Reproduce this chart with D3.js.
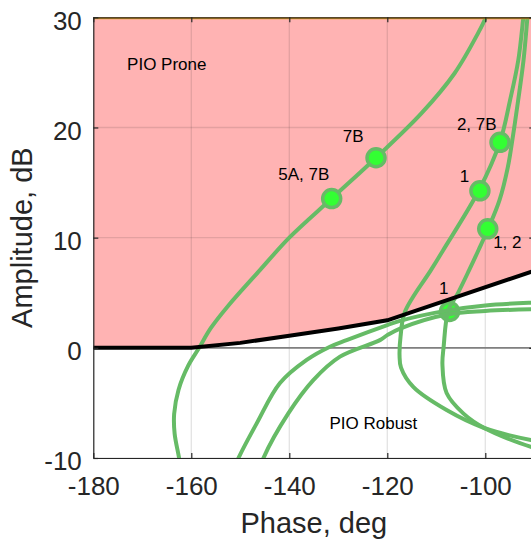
<!DOCTYPE html>
<html>
<head>
<meta charset="utf-8">
<script src="https://cdn.jsdelivr.net/npm/d3@7"></script>
<style>
  body { margin: 0; background: #fff; }
  svg { display: block; font-family: "Liberation Sans", Arial, sans-serif; }
</style>
</head>
<body>
<script>
///////////////   Data   ///////////////

var phaseTicks = [-180, -160, -140, -120, -100],
    ampTicks = [-10, 0, 10, 20, 30];

// PIO boundary [phase deg, amplitude dB]
var boundary = [[-180, 0], [-160, 0], [-150, 0.45], [-140, 1.1], [-130, 1.75], [-120, 2.5], [-90, 7.0]];

// Nichols traces
var traceA = [[-162.2, -11], [-162.5, -10], [-163.4, -7.8], [-163.5, -6.0], [-162.6, -3.8],
              [-160.6, -1.6], [-158.4, 0], [-156.0, 1.8], [-152.5, 3.8], [-146, 7.05], [-140, 10],
              [-131.35, 13.55], [-122.3, 17.25], [-113.1, 21.25], [-106.3, 24.9], [-101.55, 28.5],
              [-99.9, 30], [-99.3, 31]];
var traceB = [[-92.0, 31], [-92.24, 30], [-93.27, 26.1], [-94.96, 22.45], [-97.0, 18.7], [-101.3, 14.3],
              [-108.6, 8.86], [-111.1, 7.05], [-116.4, 3.27], [-117.3, 1.0], [-117.5, -0.7], [-117.2, -1.8],
              [-114.7, -3.55], [-107.9, -5.65], [-100.1, -7.3], [-90.7, -8.37], [-87, -8.6]];
var traceC = [[-91.2, 31], [-91.4, 30], [-92.2, 26.1], [-93.3, 22.45], [-94.3, 19.4], [-95.4, 16.4],
              [-97.1, 13.4], [-99.4, 10.83], [-101.4, 8.86], [-103.3, 7.05], [-105.8, 4.78], [-107.55, 3.4],
              [-108.5, 0.1], [-108.75, -1.5], [-107.9, -4.1], [-104.5, -5.95], [-100.1, -7.3],
              [-90.7, -8.98], [-87, -9.3]];
var traceD = [[-151.3, -11], [-150.4, -10.03], [-146.65, -6.86], [-141.9, -3.2], [-136.45, -1.1],
              [-131.7, 0.1], [-128.3, 0.7], [-120, 2.06], [-117.4, 2.45], [-107.6, 3.4], [-100, 3.85],
              [-90.7, 4.1], [-87, 4.15]];
var traceE = [[-146, -11], [-145.3, -10.03], [-140.2, -5.95], [-135.1, -2.93], [-129.65, -0.8],
              [-121.5, 0.7], [-120, 1.15], [-117.4, 1.75], [-107.6, 3.05], [-100, 3.35], [-90.7, 3.5],
              [-87, 3.52]];
var traces = [traceA, traceB, traceC, traceD, traceE];

// markers: phase, amplitude, drawn under the traces?
var markPhase = [-131.35, -122.3, -97.0, -101.1, -99.5, -107.3],
    markAmp = [13.55, 17.25, 18.65, 14.25, 10.8, 3.3],
    markUnder = [false, false, false, false, false, true];

// text labels (left edge, baseline)
var labelText = ["PIO Prone", "PIO Robust", "5A, 7B", "7B", "2, 7B", "1", "1, 2", "1"],
    labelPhase = [-173.1, -131.8, -142.25, -129.1, -105.8, -105.2, -98.4, -109.45],
    labelAmp = [25.2, -7.4, 15.2, 18.7, 19.75, 15.06, 9.1, 4.93];

///////////////   Layout   ///////////////

var W = 531, H = 541,
    plotL = 93.3, plotR = 534.3, plotT = 17.3, plotB = 458,
    axisColor = "#262626",
    traceColor = "#66BB66",
    markFill = "#33FF33",
    proneFill = "#FFB3B3";

var x = d3.scaleLinear().domain([-180, -90]).range([plotL, plotR]);
var y = d3.scaleLinear().domain([-10, 30]).range([plotB, plotT]);

var svg = d3.select("body").append("svg").attr("width", W).attr("height", H);

svg.append("clipPath").attr("id", "plotclip")
  .append("rect").attr("x", plotL).attr("y", plotT).attr("width", plotR - plotL).attr("height", plotB - plotT);

var plot = svg.append("g").attr("clip-path", "url(#plotclip)");

var straight = d3.line().x(function(d) { return x(d[0]); }).y(function(d) { return y(d[1]); });

// PIO prone region (above boundary)
var prone = boundary.concat([[-90, 30], [-180, 30]]);
plot.append("path")
  .attr("d", straight(prone) + "Z")
  .attr("fill", proneFill);

// grid
plot.selectAll(".vgrid").data(phaseTicks).enter().append("line")
  .attr("x1", function(d) { return x(d); }).attr("x2", function(d) { return x(d); })
  .attr("y1", plotT).attr("y2", plotB)
  .attr("stroke", axisColor).attr("stroke-opacity", 0.13).attr("stroke-width", 1.3);
plot.selectAll(".hgrid").data(ampTicks).enter().append("line")
  .attr("y1", function(d) { return y(d); }).attr("y2", function(d) { return y(d); })
  .attr("x1", plotL).attr("x2", plotR)
  .attr("stroke", axisColor).attr("stroke-opacity", 0.13).attr("stroke-width", 1.3);

// 0 dB line
plot.append("line")
  .attr("x1", plotL).attr("x2", plotR).attr("y1", y(0)).attr("y2", y(0))
  .attr("stroke", "#808080").attr("stroke-width", 1.6);

var line = d3.line()
  .x(function(d) { return x(d[0]); })
  .y(function(d) { return y(d[1]); })
  .curve(d3.curveCatmullRom.alpha(0.5));

function drawMarkers(under) {
  var idx = d3.range(markPhase.length).filter(function(i) { return markUnder[i] === under; });
  plot.selectAll(null).data(idx).enter().append("circle")
    .attr("cx", function(i) { return x(markPhase[i]); })
    .attr("cy", function(i) { return y(markAmp[i]); })
    .attr("r", 9)
    .attr("fill", markFill)
    .attr("stroke", traceColor)
    .attr("stroke-width", 3.5);
}

drawMarkers(true);

plot.selectAll(".trace").data(traces).enter().append("path")
  .attr("d", line)
  .attr("fill", "none")
  .attr("stroke", traceColor)
  .attr("stroke-width", 4)
  .attr("stroke-linejoin", "round");

// boundary line
plot.append("path")
  .attr("d", straight(boundary))
  .attr("fill", "none")
  .attr("stroke", "#000")
  .attr("stroke-width", 4);

drawMarkers(false);

// top edge of prone region
svg.append("line")
  .attr("x1", plotL).attr("x2", plotR).attr("y1", plotT + 1).attr("y2", plotT + 1)
  .attr("stroke", "#E8A317").attr("stroke-width", 2);

// labels
svg.selectAll(".lab").data(labelText).enter().append("text")
  .attr("x", function(d, i) { return x(labelPhase[i]); })
  .attr("y", function(d, i) { return y(labelAmp[i]); })
  .attr("font-size", 17)
  .attr("fill", "#000")
  .text(function(d) { return d; });

///////////////   Axes   ///////////////

function styleAxis(g) {
  g.selectAll("path, line").attr("stroke", axisColor).attr("stroke-width", 1.2);
  g.selectAll("text").attr("fill", axisColor).attr("font-size", 26)
    .attr("font-family", "'Liberation Sans', Arial, sans-serif");
}

var fmt = function(d) { return String(d); };

svg.append("g").attr("transform", "translate(0," + plotB + ")")
  .call(d3.axisBottom(x).tickValues(phaseTicks).tickFormat(fmt).tickSize(-5).tickSizeOuter(0))
  .call(styleAxis)
  .call(function(g) { g.selectAll("text").attr("y", 37).attr("dy", 0); });

svg.append("g").attr("transform", "translate(0," + plotT + ")")
  .call(d3.axisTop(x).tickValues(phaseTicks).tickFormat("").tickSize(-5).tickSizeOuter(0))
  .call(styleAxis);

svg.append("g").attr("transform", "translate(" + plotL + ",0)")
  .call(d3.axisLeft(y).tickValues(ampTicks).tickFormat(fmt).tickSize(-5).tickSizeOuter(0))
  .call(styleAxis)
  .call(function(g) { g.selectAll("text").attr("x", -11.5).attr("dy", "0.46em"); });

svg.append("g").attr("transform", "translate(" + plotR + ",0)")
  .call(d3.axisRight(y).tickValues(ampTicks).tickFormat("").tickSize(-5).tickSizeOuter(0))
  .call(styleAxis);

// axis titles
svg.append("text")
  .attr("x", (plotL + plotR) / 2).attr("y", 532.5)
  .attr("text-anchor", "middle")
  .attr("font-size", 29).attr("fill", axisColor)
  .text("Phase, deg");

svg.append("text")
  .attr("transform", "translate(31.5," + ((plotT + plotB) / 2) + ") rotate(-90)")
  .attr("text-anchor", "middle")
  .attr("font-size", 29).attr("fill", axisColor)
  .text("Amplitude, dB");
</script>
</body>
</html>
